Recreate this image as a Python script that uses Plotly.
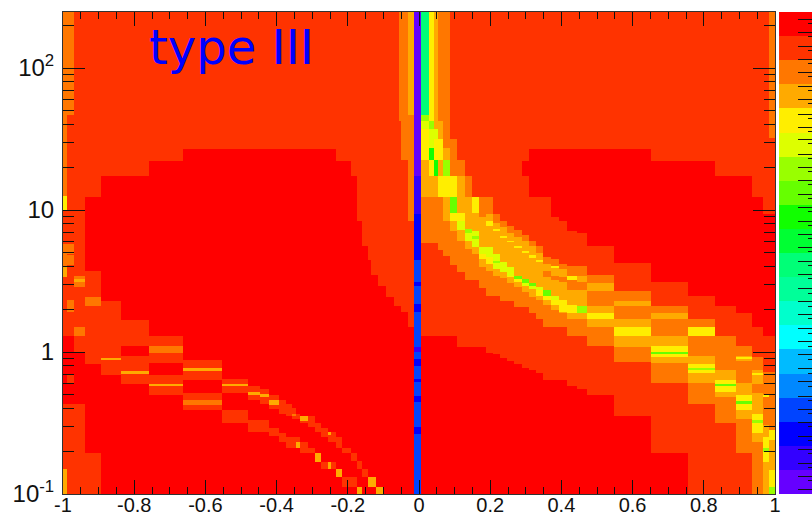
import plotly.graph_objects as go

# Colour level of each palette band (0 = highest, ROOT rainbow palette)
level_colors = ["#ff0000", "#ff3300", "#ff7700", "#ffaa00", "#ffee00", "#ddff00", "#99ff00",
                "#66ff00", "#11ff00", "#00ff33", "#00ff77", "#00ff99", "#00ffcc", "#00ffff",
                "#00bbff", "#0088ff", "#0044ff", "#0000ff", "#3300ff", "#6600ff"]

y_range_log10 = [-1.0, 2.395]

# Bin edges along x
x_edges = [-1, -.99, -.97, -.937, -.893, -.836, -.759, -.662, -.552, -.479,
           -.448, -.42, -.392, -.375, -.358, -.345, -.334, -.313, -.293, -.274,
           -.257, -.248, -.232, -.215, -.192, -.173, -.159, -.144, -.134, -.122,
           -.116, -.102, -.092, -.071, -.056, -.05, -.031, -.014, .007, .028,
           .042, .053, .067, .088, .108, .128, .15, .168, .187, .208,
           .227, .248, .268, .288, .309, .33, .349, .37, .392, .417,
           .443, .471, .547, .653, .755, .831, .89, .934, .967, .984, 1]

# For each x bin, from the top of the plot down: level, log10(y) where it ends, level, ...
columns = [
    [2,1.101,4,.996,1,.764,2,.602,3,.525,1,.110,0,-.368,1,-.824,3],
    [2,1.670,1,.764,2,.694,1,.680,2,.616,1,.363,2,.279,1,.110,0,-.164,1,-.220,0,-.368,1],
    [1,.539,2,.511,3,.490,2,.455,1,.174,2,.110,1,-.002,0,-.368,1],
    [1,1.094,0,.569,1,.391,2,.321,1,-.086,0,-.712,1],
    [1,1.242,0,.358,1,-.042,3,-.058,1,-.159,0],
    [1,1.242,0,.228,1,.040,0,-.030,1,-.134,3,-.152,1,-.222,0],
    [1,1.347,0,.110,1,.040,2,-.007,1,-.077,0,-.164,1,-.222,3,-.241,1,-.304,0],
    [1,1.431,0,-.058,1,-.110,3,-.136,1,-.194,0,-.288,1,-.339,2,-.370,1,-.405,0],
    [1,1.431,0,-.187,1,-.222,3,-.241,1,-.288,0,-.405,1,-.503,0],
    [1,1.431,0,-.241,1,-.285,3,-.304,1,-.339,0,-.480,1,-.566,0],
    [1,1.431,0,-.262,1,-.299,3,-.320,1,-.368,0,-.480,1,-.566,0],
    [1,1.431,0,-.304,1,-.339,3,-.370,1,-.403,0,-.534,1,-.592,0],
    [1,1.431,0,-.339,1,-.433,0,-.573,1,-.632,0],
    [1,1.431,0,-.368,1,-.450,0,-.597,1,-.679,0],
    [1,1.431,0,-.394,1,-.433,2,-.452,1,-.475,0,-.597,1,-.679,0],
    [1,1.431,0,-.433,1,-.475,0,-.597,1,-.632,3,-.679,0],
    [1,1.431,0,-.452,3,-.485,1,-.501,0,-.632,1,-.714,0],
    [1,1.431,0,-.452,1,-.527,0,-.679,1,-.714,0],
    [1,1.431,0,-.503,1,-.562,0,-.714,3,-.773,0],
    [1,1.431,0,-.534,1,-.597,0,-.773,1,-.824,0],
    [1,1.431,0,-.566,3,-.585,1,-.632,0,-.773,3,-.824,0],
    [1,1.431,0,-.566,1,-.632,0,-.773,1,-.824,0],
    [1,1.347,0,-.597,1,-.679,0,-.824,3,-.878,0],
    [1,1.347,0,-.679,1,-.714,0,-.878,1,-.949,0],
    [1,1.242,0,-.714,1,-.768,0,-.878,1,-.949,0],
    [1,.925,0,-.768,1,-.824,0,-.949,3],
    [1,.750,0,-.824,1,-.878,0],
    [1,.651,0,-.878,3,-.949,0],
    [1,.546,0,-.878,3,-.949,0],
    [1,.546,0,-.949,3],
    [1,.462,0,-.949,3],
    [1,.462,0],
    [1,.391,0],
    [1,.321,0],
    [2,1.628,1,.321,0],
    [2,1.354,1,.279,0],
    [3,1.670,2,.925,1,.174,0],
    [19,1.242,18,.975,17,.651,16,.490,17,.462,16,.335,17,.279,16,.033,18,-.002,16,-.051,17,-.100,16,-.192,17,-.213,16,-.311,17,-.353,16,-.529,17,-.578,16],
    [10,1.670,6,1.628,5,1.570,4,1.352,3,1.094,2,.771,1,.110,0],
    [4,1.628,6,1.570,5,1.434,8,1.352,4,1.242,3,1.094,2,.771,1,.110,0],
    [3,1.570,5,1.504,4,1.352,8,1.242,3,1.094,2,.771,1,.110,0],
    [2,1.628,3,1.504,4,1.352,3,1.242,4,1.094,2,.722,1,.110,0],
    [2,1.434,3,1.352,6,1.242,4,1.094,3,.925,2,.675,1,.110,0],
    [1,1.504,2,1.242,4,1.094,7,.977,4,.925,3,.855,2,.614,1,.110,0],
    [1,1.352,2,1.242,3,.977,4,.925,5,.860,3,.785,2,.567,1,.038,0],
    [1,1.242,2,1.094,3,.867,6,.836,5,.785,3,.729,2,.504,1,.038,0],
    [1,1.094,4,.977,3,.855,5,.820,6,.799,5,.738,3,.694,2,.504,1,.038,0],
    [1,1.094,2,.954,3,.738,5,.694,4,.658,3,.597,2,.453,1,.038,0],
    [1,1.094,2,.975,3,.921,4,.885,3,.738,5,.668,4,.621,3,.574,2,.394,1,-.004,0],
    [1,.975,2,.911,3,.867,4,.850,3,.691,5,.644,6,.625,5,.586,3,.539,2,.394,1,-.016,0],
    [1,.925,2,.878,3,.820,4,.802,3,.632,5,.562,3,.518,2,.358,1,-.039,0],
    [1,.885,2,.841,3,.785,4,.774,3,.597,5,.539,4,.525,3,.483,2,.358,1,-.063,0],
    [1,.860,2,.813,3,.750,4,.732,3,.539,7,.511,4,.490,3,.455,2,.319,1,-.084,0],
    [1,1.347,0,1.242,1,.827,2,.785,3,.715,4,.697,3,.511,7,.486,5,.462,3,.420,2,.319,1,-.110,0],
    [1,1.431,0,1.094,1,.785,2,.750,3,.680,4,.662,3,.486,7,.462,5,.441,3,.391,2,.277,1,-.129,0],
    [1,1.431,0,1.094,1,.750,2,.701,3,.649,4,.632,3,.457,5,.434,4,.398,3,.363,2,.235,1,-.150,0],
    [1,1.431,0,1.094,1,.668,2,.621,3,.569,2,.527,3,.434,7,.398,4,.363,3,.328,2,.176,1,-.197,0],
    [1,1.431,0,.954,1,.656,2,.609,4,.593,3,.539,2,.509,3,.398,5,.363,4,.328,3,.293,2,.176,1,-.197,0],
    [1,1.431,0,.925,1,.623,2,.586,3,.532,2,.490,3,.363,4,.281,3,.272,2,.176,1,-.197,0],
    [1,1.431,0,.855,1,.609,2,.539,4,.509,2,.434,3,.328,4,.277,3,.235,2,.112,1,-.239,0],
    [1,1.431,0,.841,1,.609,2,.539,3,.490,2,.434,3,.323,6,.277,3,.235,2,.112,1,-.257,0],
    [1,1.431,0,.750,1,.546,2,.488,3,.429,2,.323,3,.277,4,.230,3,.176,2,.040,1,-.304,0],
    [1,1.431,0,.630,1,.429,2,.358,3,.323,2,.230,3,.176,4,.112,3,.038,2,-.067,1,-.450,0],
    [1,1.347,0,.490,1,.321,2,.277,3,.230,2,.110,3,.040,4,0,7,-.016,4,-.035,3,-.077,2,-.215,1,-.712,0],
    [1,1.347,0,.398,1,.230,2,.176,4,.110,2,-.025,3,-.086,4,-.110,6,-.124,4,-.148,3,-.215,2,-.368,1],
    [1,1.242,0,.321,1,.110,2,-.124,3,-.194,4,-.222,7,-.241,4,-.281,3,-.320,2,-.503,1],
    [1,1.242,0,.277,1,.040,2,-.028,3,-.035,4,-.051,3,-.063,2,-.218,3,-.304,4,-.344,7,-.368,4,-.405,3,-.475,2,-.714,1],
    [1,1.094,0,.176,1,-.035,2,-.124,3,-.148,4,-.164,3,-.227,2,-.288,3,-.433,4,-.480,6,-.503,4,-.569,3,-.632,2],
    [1,.975,0,.110,1,-.143,2,-.304,4,-.320,2,-.515,3,-.597,4,-.679,6,-.703,4,-.773,3],
    [2,1.509,1,.975,0,.110,1,-.143,2,-.550,4,-.621,3,-.831,4,-.949,6],
]

x_ticks = [-1, -0.8, -0.6, -0.4, -0.2, 0, 0.2, 0.4, 0.6, 0.8, 1]
x_tick_labels = ["-1", "-0.8", "-0.6", "-0.4", "-0.2", "0", "0.2", "0.4", "0.6", "0.8", "1"]
x_minor_ticks = [-.95, -.9, -.85, -.75, -.7, -.65, -.55, -.5, -.45, -.35, -.3, -.25, -.15, -.1, -.05,
                 .05, .1, .15, .25, .3, .35, .45, .5, .55, .65, .7, .75, .85, .9, .95]
y_ticks = [0.1, 1, 10, 100]
y_tick_labels = ["10<sup>-1</sup>", "1", "10", "10<sup>2</sup>"]
y_minor_ticks = [.2, .3, .4, .5, .6, .7, .8, .9, 2, 3, 4, 5, 6, 7, 8, 9,
                 20, 30, 40, 50, 60, 70, 80, 90, 200]

colorbar_levels = list(range(19, -1, -1))
colorbar_major_ticks = [.18, .72, 1.26, 1.84, 2.39, 2.97, 3.51, 4.05, 4.65, 5.19, 5.77, 6.31,
                        6.85, 7.44, 7.97, 8.51, 9.10, 9.66, 10.22, 10.76, 11.32, 11.88, 12.42,
                        13.02, 13.56, 14.10, 14.70, 15.22, 15.76, 16.36, 16.90, 17.49, 18.03,
                        18.56, 19.15, 19.69]
colorbar_minor_ticks = [.01, .55, 1.09, 1.67, 2.22, 2.80, 3.34, 3.88, 4.48, 5.02, 5.60, 6.14,
                        6.68, 7.27, 7.80, 8.34, 8.93, 9.49, 10.05, 10.59, 11.15, 11.71, 12.25,
                        12.85, 13.39, 13.93, 14.53, 15.05, 15.59, 16.19, 16.73, 17.32, 17.86,
                        18.39, 18.98, 19.52]

# Build the rectangular grid shared by all columns
cuts = {y_range_log10[0], y_range_log10[1]}
for col in columns:
    cuts.update(col[1::2])
y_edges_log = sorted(c for c in cuts if y_range_log10[0] <= c <= y_range_log10[1])


def level_at(col, lg):
    levels, ends = col[0::2], col[1::2]
    for lev, end in zip(levels, ends):
        if lg > end:
            return lev
    return levels[-1]


z = []
for lo, hi in zip(y_edges_log[:-1], y_edges_log[1:]):
    mid = (lo + hi) / 2
    z.append([level_at(col, mid) for col in columns])

n = len(level_colors)
stepped = []
for i, c in enumerate(level_colors):
    stepped += [[i / n, c], [(i + 1) / n, c]]

fig = go.Figure()
fig.add_trace(go.Heatmap(x=x_edges, y=[10 ** v for v in y_edges_log], z=z,
                         colorscale=stepped, zmin=-0.5, zmax=n - 0.5,
                         showscale=False, hoverinfo="skip"))
fig.add_trace(go.Heatmap(x=[0, 1], y=list(range(len(colorbar_levels) + 1)),
                         z=[[v] for v in colorbar_levels],
                         colorscale=stepped, zmin=-0.5, zmax=n - 0.5,
                         showscale=False, hoverinfo="skip", xaxis="x2", yaxis="y2"))

tick_font = dict(family="Liberation Sans, Arial, sans-serif", color="#111111")
fig.update_layout(
    template="none",
    width=812, height=518, autosize=False,
    margin=dict(l=63, r=0, t=12, b=24, pad=0, autoexpand=False),
    paper_bgcolor="white", plot_bgcolor="white",
    showlegend=False,
    xaxis=dict(domain=[0, 0.9506], range=[-1, 1], tickmode="array", tickvals=x_ticks, automargin=False,
               ticktext=x_tick_labels, ticks="inside", ticklen=14, tickwidth=1, tickcolor="#111111",
               minor=dict(tickmode="array", tickvals=x_minor_ticks, ticks="inside", ticklen=7,
                          tickwidth=1, tickcolor="#111111"),
               showgrid=False, zeroline=False, showline=True, linecolor="#333333", linewidth=1,
               mirror="allticks", tickangle=0, tickfont=dict(size=20, **tick_font), ticklabelstandoff=-7),
    yaxis=dict(type="log", range=y_range_log10, tickmode="array", tickvals=y_ticks, automargin=False,
               ticktext=y_tick_labels, ticks="inside", ticklen=22, tickwidth=1, tickcolor="#111111",
               minor=dict(tickmode="array", tickvals=y_minor_ticks, ticks="inside", ticklen=11,
                          tickwidth=1, tickcolor="#111111"),
               showgrid=False, zeroline=False, showline=True, linecolor="#333333", linewidth=1,
               mirror="allticks", tickfont=dict(size=24, **tick_font), ticklabelstandoff=3),
    xaxis2=dict(domain=[0.956, 1], range=[0, 1], anchor="y2", showticklabels=False, ticks="", automargin=False,
                showgrid=False, zeroline=False, showline=False),
    yaxis2=dict(domain=[0, 1], range=[0, 20], anchor="x2", side="right", showticklabels=False, automargin=False,
                tickmode="array", tickvals=colorbar_major_ticks, ticks="inside", ticklen=14, tickwidth=1,
                tickcolor="#111111",
                minor=dict(tickmode="array", tickvals=colorbar_minor_ticks, ticks="inside", ticklen=4,
                           tickwidth=1, tickcolor="#111111"),
                showgrid=False, zeroline=False, showline=False),
    annotations=[dict(text="type III", x=-0.527, y=2.15, xref="x", yref="y", showarrow=False,
                      xanchor="center", yanchor="middle",
                      font=dict(family="DejaVu Sans", size=48, color="#0000ff"))],
)

fig.write_html("out.html", config={"displayModeBar": False},
               post_script="document.body.style.margin='0';document.documentElement.style.overflow='hidden';")
